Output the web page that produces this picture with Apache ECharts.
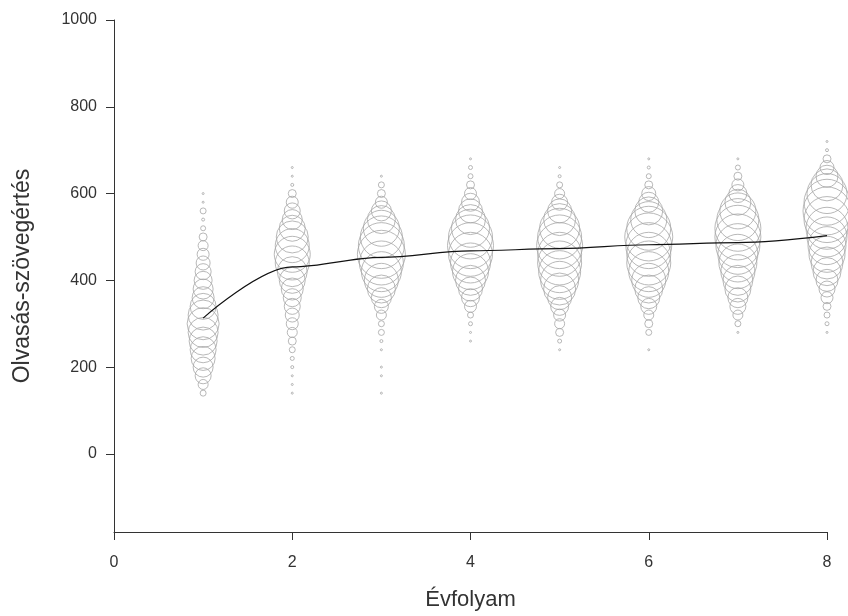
<!DOCTYPE html>
<html><head><meta charset="utf-8">
<script src="https://cdn.jsdelivr.net/npm/echarts@6/dist/echarts.min.js"></script>
<style>html,body{margin:0;padding:0;background:#fff}#c{width:848px;height:616px}</style>
</head><body><div id="c"></div>
<script>
// Grade (évfolyam) categories on the x axis
var grades = [1, 2, 3, 4, 5, 6, 7, 8];
// Mean reading score per grade (black line)
var means = [313, 431, 453, 468, 473, 482, 487, 503];
// Score levels per grade and the relative frequency (bubble size) at each level
var g1Scores = [600,580,560,540,520,500,480,460,440,420,400,380,360,340,320,300,280,260,240,220,200,180,160,140];
var g1Freq   = [2,2,6,3,5,8,10,12,14,16,18,20,22,26,30,32,30,28,26,24,20,16,10,6];
var g2Scores = [660,640,620,600,580,560,540,520,500,480,460,440,420,400,380,360,340,320,300,280,260,240,220,200,180,160,140];
var g2Freq   = [2,2,3,8,12,16,20,26,32,34,36,34,30,26,22,18,16,14,12,10,8,6,4,3,2,2,2];
var g3Scores = [640,620,600,580,560,540,520,500,480,460,440,420,400,380,360,340,320,300,280,260,240,200,180,140];
var g3Freq   = [2,6,8,12,20,28,36,42,46,48,44,40,34,28,20,14,10,6,6,3,2,2,2,2];
var g4Scores = [680,660,640,620,600,580,560,540,520,500,480,460,440,420,400,380,360,340,320,300,280,260];
var g4Freq   = [2,4,5,8,12,18,24,30,38,44,46,44,40,36,30,24,18,12,6,4,2,2];
var g5Scores = [660,640,620,600,580,560,540,520,500,480,460,440,420,400,380,360,340,320,300,280,260,240];
var g5Freq   = [2,3,6,10,16,24,32,40,44,46,44,44,42,38,32,24,18,12,10,8,4,2];
var g6Scores = [680,660,640,620,600,580,560,540,520,500,480,460,440,420,400,380,360,340,320,300,280,240];
var g6Freq   = [2,3,5,8,14,20,28,36,44,48,46,44,44,40,34,28,22,16,10,8,6,2];
var g7Scores = [680,660,640,620,600,580,560,540,520,500,480,460,440,420,400,380,360,340,320,300,280];
var g7Freq   = [2,5,8,12,18,26,36,42,46,46,44,40,38,34,30,26,20,16,10,6,2];
var g8Scores = [720,700,680,660,640,620,600,580,560,540,520,500,480,460,440,420,400,380,360,340,320,300,280];
var g8Freq   = [2,3,8,14,22,32,40,46,48,46,42,40,38,36,32,28,22,16,12,8,6,4,2];
// Axis ticks
var xTicks = [0, 2, 4, 6, 8];
var yTicks = [0, 200, 400, 600, 800, 1000];

var allScores = [g1Scores,g2Scores,g3Scores,g4Scores,g5Scores,g6Scores,g7Scores,g8Scores];
var allFreq = [g1Freq,g2Freq,g3Freq,g4Freq,g5Freq,g6Freq,g7Freq,g8Freq];
var bubbleData = [];
grades.forEach(function (g, i) {
  allScores[i].forEach(function (s, j) { bubbleData.push([g, s, allFreq[i][j]]); });
});
var lineData = grades.map(function (g, i) { return [g, means[i]]; });

var axisCol = '#333';
var font = "'Liberation Sans', Arial, sans-serif";
var plain = function (v) { return String(v); };
var chart = echarts.init(document.getElementById('c'));
chart.setOption({
  animation: false,
  grid: { left: 114, right: 21, top: 20, bottom: 83 },
  xAxis: {
    type: 'value', min: 0, max: 8, interval: 2,
    name: 'Évfolyam', nameLocation: 'middle', nameGap: 57,
    nameTextStyle: { fontSize: 22, color: '#333', fontFamily: font },
    axisLine: { show: true, onZero: false, lineStyle: { color: axisCol, width: 1 } },
    axisTick: { show: true, length: 8, lineStyle: { color: axisCol }, customValues: xTicks },
    axisLabel: { fontSize: 16, color: '#333', margin: 23, fontFamily: font, customValues: xTicks, formatter: plain },
    splitLine: { show: false }
  },
  yAxis: {
    type: 'value', min: -180, max: 1000,
    name: 'Olvasás-szövegértés', nameLocation: 'middle', nameGap: 80, nameRotate: 90,
    nameTextStyle: { fontSize: 23, color: '#333', fontFamily: font },
    axisLine: { show: true, onZero: false, lineStyle: { color: axisCol, width: 1 } },
    axisTick: { show: true, length: 8, lineStyle: { color: axisCol }, customValues: yTicks },
    axisLabel: { fontSize: 16, color: '#333', margin: 17, fontFamily: font, customValues: yTicks, formatter: plain },
    splitLine: { show: false }
  },
  series: [
    {
      type: 'scatter', clip: false, data: bubbleData,
      symbol: 'circle',
      symbolSize: function (d) { return d[2]; },
      itemStyle: { color: 'rgba(0,0,0,0)', borderColor: '#a6a6a6', borderWidth: 1 },
      z: 2
    },
    {
      type: 'line', data: lineData, smooth: 0.35, smoothMonotone: 'x',
      showSymbol: false, symbol: 'none',
      lineStyle: { color: '#111', width: 1.2 },
      z: 3
    }
  ]
});
</script></body></html>
